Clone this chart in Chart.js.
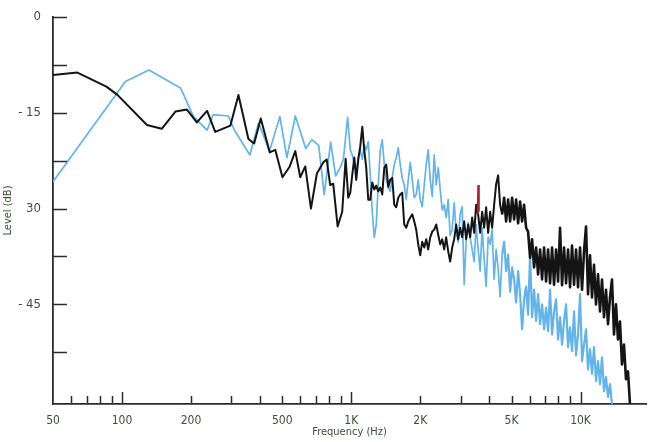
<!DOCTYPE html>
<html>
<head>
<meta charset="utf-8">
<script src="https://cdn.jsdelivr.net/npm/chart.js@4/dist/chart.umd.min.js"></script>
<style>
  html, body { margin: 0; padding: 0; background: #ffffff; }
  #wrap { width: 649px; height: 442px; position: relative; }
</style>
</head>
<body>
<div id="wrap"><canvas id="levelChart" width="649" height="442"></canvas></div>
<script>
// low-frequency part of the black trace (Hz, dB)
const blackLowFreq = [
  50, 63.9, 85.5, 95.5, 128.5, 149, 171, 192, 212, 235, 255, 297, 322, 356, 377, 403,
  441, 466, 501, 539, 570, 599, 630, 667, 708, 757, 781, 809, 834, 872, 913, 945, 970
];
const blackLowLevel = [
  -9.1, -8.7, -10.9, -12.2, -16.9, -17.5, -14.8, -14.5, -16.5, -14.7, -18.0, -17.0, -12.2, -19.1, -19.8, -15.9,
  -21.2, -20.8, -25.1, -23.4, -21.0, -25.1, -23.4, -30.0, -24.5, -22.7, -22.3, -26.3, -26.1, -32.8, -30.5, -22.2, -28.3
];

// low-frequency part of the blue trace (Hz, dB)
const blueLowFreq = [
  50, 103.5, 131, 180, 205, 235, 250, 291, 309, 361, 394, 440, 488, 524, 570, 633, 673,
  721, 762, 813, 855, 894, 924, 964
];
const blueLowLevel = [
  -25.8, -10.1, -8.3, -11.1, -15.6, -17.7, -15.3, -15.5, -17.7, -21.6, -16.6, -21.0, -15.6, -22.0, -15.5, -20.6, -19.2,
  -20.1, -27.8, -19.6, -24.9, -23.6, -22.3, -15.7
];

// analyser frequencies for the dense upper part (shared by both traces)
const denseFreq = [
  990, 1010, 1031, 1051, 1073, 1094, 1117, 1139, 1162, 1186, 1210, 1235, 1260, 1285, 1311, 1338,
  1365, 1393, 1421, 1450, 1479, 1509, 1540, 1571, 1603, 1635, 1668, 1702, 1737, 1772, 1808, 1845,
  1882, 1920, 1959, 1999, 2039, 2081, 2123, 2166, 2210, 2255, 2300, 2347, 2395,
  2443, 2492, 2543, 2594, 2647, 2700, 2755, 2811, 2868, 2926, 2985, 3046, 3108, 3171, 3235, 3300,
  3367, 3436, 3505, 3576, 3649, 3723, 3798, 3875, 3954, 4034, 4115, 4199, 4284, 4371, 4459, 4550,
  4642, 4736, 4832, 4930, 5030, 5132, 5236, 5342, 5450, 5560, 5673, 5788, 5905, 6025, 6147, 6272,
  6399, 6529, 6661, 6796, 6934, 7074, 7217, 7364, 7513, 7665, 7821, 7979, 8141, 8306, 8474, 8646,
  8821, 9000, 9182, 9368, 9558, 9752, 9950, 10152, 10357, 10567, 10781, 11000, 11223, 11450, 11683,
  11919, 12161, 12407, 12659, 12915, 13177, 13444, 13716, 13994, 14278, 14567, 14862, 15163, 15470,
  15784, 16104, 16430
];

const blackDenseLevel = [
  -27.5, -24.7, -22.0, -25.5, -22.3, -20.3, -17.2, -20.8, -23.6, -28.6, -28.6, -25.9, -27.0, -26.4, -27.3, -26.7,
  -27.8, -23.6, -23.1, -26.6, -25.5, -25.2, -29.4, -29.8, -28.3, -27.8, -27.5, -32.5, -33.0, -32.0, -31.4, -30.9,
  -32.0, -33.3, -35.6, -37.3, -35.2, -36.1, -34.8, -36.4, -34.5, -33.6, -33.3, -32.5, -34.1,
  -35.6, -34.8, -36.4, -34.5, -36.7, -38.3, -36.1, -34.8, -32.5, -34.8, -33.0, -34.5, -32.0, -34.8, -32.5, -34.5,
  -31.4, -33.8, -29.4, -30.9, -33.8, -30.5, -33.0, -29.8, -33.8, -30.5, -33.0, -29.4, -26.2, -24.8, -29.4, -30.9,
  -28.3, -32.0, -28.6, -32.0, -28.3, -31.7, -28.6, -32.3, -28.9, -32.0, -29.4, -33.0, -33.6, -37.7, -34.8, -39.2,
  -36.1, -40.3, -36.4, -41.1, -36.1, -41.4, -36.4, -41.7, -36.1, -41.9, -36.4, -41.4, -33.0, -42.0, -36.1, -41.7,
  -36.4, -42.3, -35.8, -41.9, -36.4, -42.3, -36.1, -42.7, -36.7, -32.8, -43.4, -37.3, -43.9, -38.8, -45.0,
  -40.3, -46.1, -41.1, -47.0, -42.7, -48.1, -43.9, -41.1, -49.7, -45.0, -50.5, -47.7, -54.4, -51.3,
  -56.7, -55.5, -60.6
];

const blueDenseLevel = [
  -20.8, -21.6, -23.1, -24.2, -22.0, -20.8, -22.3, -20.0, -20.8, -19.5, -24.7, -30.5, -34.5, -32.5, -26.3, -20.8,
  -19.2, -23.1, -25.5, -26.7, -27.3, -25.2, -23.1, -22.0, -20.5, -23.1, -25.2, -26.3, -28.6, -25.5, -22.8, -25.5,
  -28.3, -27.8, -25.5, -28.6, -29.7, -26.3, -23.1, -20.8, -25.5, -28.1, -21.6, -26.3, -23.6,
  -27.0, -30.2, -29.4, -31.4, -28.6, -34.2, -33.3, -29.1, -33.6, -35.3, -30.9, -29.7, -41.9, -34.8, -32.2, -34.5,
  -36.4, -38.3, -32.5, -36.4, -39.8, -33.0, -38.0, -42.2, -34.5, -35.6, -33.3, -41.1, -36.4, -39.5, -43.8, -37.2,
  -35.2, -39.8, -37.2, -43.0, -39.2, -41.1, -44.7, -39.8, -43.4, -48.9, -44.2, -42.2, -46.6, -37.2, -47.0, -42.7,
  -47.6, -43.4, -48.1, -45.0, -48.9, -45.5, -49.2, -42.7, -49.7, -46.1, -44.2, -50.5, -47.0, -51.3, -47.6, -45.0,
  -51.7, -48.6, -52.3, -46.1, -53.0, -49.7, -43.4, -53.9, -51.3, -48.9, -55.2, -52.0, -55.9, -51.7, -57.0,
  -53.9, -57.5, -53.3, -58.6, -56.4, -59.5, -57.5, -60.6
];

// short red stroke near 3.6K
const redFreq = [3560, 3580, 3600];
const redLevel = [-30.9, -26.3, -30.5];

const xTickValues = [50, 60, 70, 80, 90, 100, 200, 300, 400, 500, 600, 700, 800, 900,
  1000, 2000, 3000, 4000, 5000, 6000, 7000, 8000, 9000, 10000];
const xTickLabels = { 50: "50", 100: "100", 200: "200", 500: "500", 1000: "1K", 2000: "2K", 5000: "5K", 10000: "10K" };
const xMajorTicks = [100, 1000, 10000];

const yTickValues = [0, -7.5, -15, -22.5, -30, -37.5, -45, -52.5];
const yTickLabels = { "0": "0", "-15": "- 15", "-30": "30", "-45": "- 45" };

const axisColor = "#2a2e2a";
const textColor = "#3f4c3e";
const fontFamily = "'Liberation Sans Narrow', 'DejaVu Sans Condensed', 'Liberation Sans', sans-serif";

function toPoints(xs, ys) {
  const pts = [];
  for (let i = 0; i < ys.length; i++) {
    pts.push({ x: xs[i], y: ys[i] });
  }
  return pts;
}

// tick marks point inward from the axes, like the printed figure
const innerTicks = {
  id: "innerTicks",
  afterDraw(chart) {
    const ctx = chart.ctx;
    const xs = chart.scales.x;
    const ys = chart.scales.y;
    const area = chart.chartArea;
    ctx.save();
    ctx.strokeStyle = axisColor;
    ctx.lineWidth = 1.5;
    ctx.beginPath();
    xTickValues.forEach(v => {
      if (v === 50) return;
      const px = Math.round(xs.getPixelForValue(v)) + 0.5;
      const len = xMajorTicks.includes(v) ? 12 : 8;
      ctx.moveTo(px, area.bottom);
      ctx.lineTo(px, area.bottom - len);
    });
    yTickValues.forEach(v => {
      const py = Math.round(ys.getPixelForValue(v)) + 0.5;
      ctx.moveTo(area.left, py);
      ctx.lineTo(area.left + 14, py);
    });
    ctx.stroke();
    ctx.restore();
  }
};

const blackPoints = toPoints(blackLowFreq, blackLowLevel).concat(toPoints(denseFreq, blackDenseLevel));
const bluePoints = toPoints(blueLowFreq, blueLowLevel).concat(toPoints(denseFreq, blueDenseLevel));

// the dense (noisy) stretch reads as a thicker band in the print
const denseStart = 4500;
function widthFor(base, dense) {
  return c => (c.p0.parsed.x >= denseStart ? dense : base);
}

const ctx = document.getElementById("levelChart").getContext("2d");

new Chart(ctx, {
  type: "line",
  data: {
    datasets: [
      {
        label: "red",
        data: toPoints(redFreq, redLevel),
        borderColor: "#b0202a",
        borderWidth: 2,
        pointRadius: 0,
        tension: 0,
        order: 0
      },
      {
        label: "black",
        data: blackPoints,
        borderColor: "#141414",
        borderWidth: 2,
        borderJoinStyle: "round",
        segment: { borderWidth: widthFor(2, 2.6) },
        pointRadius: 0,
        tension: 0,
        order: 1
      },
      {
        label: "blue",
        data: bluePoints,
        borderColor: "#62b4ea",
        borderWidth: 1.7,
        borderJoinStyle: "round",
        segment: { borderWidth: widthFor(1.7, 2.2) },
        pointRadius: 0,
        tension: 0,
        order: 2
      }
    ]
  },
  options: {
    responsive: false,
    animation: false,
    layout: { padding: { top: 17, right: 3, left: 0, bottom: 0 } },
    plugins: {
      legend: { display: false },
      tooltip: { enabled: false }
    },
    scales: {
      x: {
        type: "logarithmic",
        min: 50,
        max: 19300,
        afterBuildTicks: scale => {
          scale.ticks = xTickValues.map(v => ({ value: v }));
        },
        afterFit: scale => { scale.height = 38; },
        grid: { display: false },
        border: { display: true, color: axisColor, width: 1.8 },
        ticks: {
          autoSkip: false,
          maxRotation: 0,
          padding: 2,
          color: textColor,
          font: { family: fontFamily, size: 12 },
          callback: value => xTickLabels[value] || ""
        },
        title: {
          display: true,
          text: "Frequency (Hz)",
          color: textColor,
          font: { family: fontFamily, size: 11 },
          padding: { top: 0, bottom: 3 }
        }
      },
      y: {
        type: "linear",
        min: -60.6,
        max: 0,
        afterBuildTicks: scale => {
          scale.ticks = yTickValues.map(v => ({ value: v }));
        },
        afterFit: scale => { scale.width = 53; },
        grid: { display: false },
        border: { display: true, color: axisColor, width: 1.8 },
        ticks: {
          autoSkip: false,
          padding: 4,
          color: textColor,
          font: { family: fontFamily, size: 13 },
          callback: value => yTickLabels[String(value)] || ""
        },
        title: {
          display: true,
          text: "Level (dB)",
          color: textColor,
          font: { family: fontFamily, size: 11 },
          padding: { top: 2, bottom: 0 }
        }
      }
    }
  },
  plugins: [innerTicks]
});
</script>
</body>
</html>
